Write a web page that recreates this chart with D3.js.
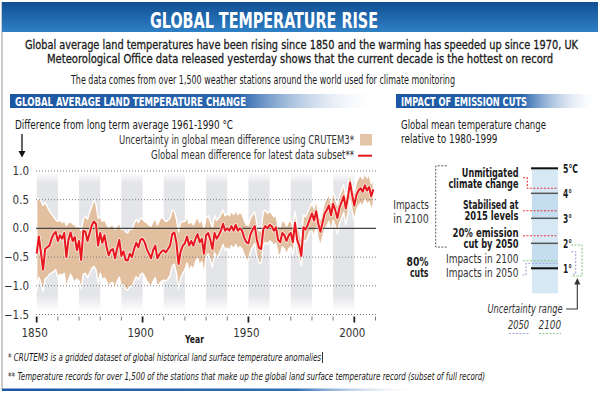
<!DOCTYPE html>
<html>
<head>
<meta charset="utf-8">
<script src="https://cdn.jsdelivr.net/npm/d3@7"></script>
<style>
body { margin: 0; background: #fff; }
svg { display: block; }
text { font-family: "DejaVu Sans Condensed", "Liberation Sans Narrow", sans-serif; fill: #1a1a1a; }
</style>
</head>
<body>
<div id="chart"></div>
<script>
// annual land temperature anomaly, 1850 onwards (deg C vs 1961-1990)
const startYear = 1850
const anomaly = [
  -0.44, -0.14, -0.42, -0.72, -0.36, -0.33, -0.30, -0.18, -0.10, -0.06,
  -0.22, -0.12, -0.18, -0.08, -0.50, -0.20, -0.07, -0.22, -0.15, -0.38,
  -0.22, -0.55, -0.04, -0.06, -0.22, -0.08, 0.05, 0.12, 0.08, -0.30,
  -0.08, -0.25, -0.12, -0.32, -0.47, -0.38, -0.36, -0.52, -0.35, -0.20,
  -0.48, -0.40, -0.55, -0.56, -0.44, -0.50, -0.36, -0.25, -0.33, -0.20,
  -0.18, -0.24, -0.36, -0.44, -0.52, -0.38, -0.30, -0.52, -0.45, -0.40,
  -0.38, -0.42, -0.36, -0.30, -0.10, -0.07, -0.25, -0.62, -0.40, -0.30,
  -0.26, -0.14, -0.30, -0.22, -0.30, -0.18, -0.10, -0.24, -0.18, -0.44,
  -0.12, -0.08, -0.20, -0.36, -0.08, -0.18, -0.12, -0.04, 0.08, -0.04,
  0.00, -0.04, 0.04, -0.04, 0.06, -0.04, 0.00, -0.04, -0.16, -0.24,
  -0.26, -0.10, -0.02, 0.04, -0.20, -0.34, -0.36, -0.02, 0.04, 0.00,
  0.06, 0.04, -0.04, 0.02, -0.20, -0.24, -0.08, -0.12, -0.22, -0.12,
  -0.08, -0.24, 0.10, -0.20, -0.30, -0.48, 0.02, -0.02, 0.06, 0.16,
  0.26, 0.14, 0.30, 0.08, -0.06, 0.10, 0.26, 0.32, 0.40, 0.23,
  0.43, 0.32, 0.18, 0.36, 0.46, 0.56, 0.35, 0.55, 0.80, 0.58,
  0.40, 0.58, 0.66, 0.70, 0.64, 0.75, 0.66, 0.72, 0.56, 0.68
]
// CRUTEM3 uncertainty envelope, same years
const upperBound = [
  0.50, 0.52, 0.48, 0.40, 0.45, 0.38, 0.30, 0.25, 0.20, 0.15,
  0.12, 0.15, 0.10, 0.14, 0.05, 0.10, 0.12, 0.08, 0.06, 0.02,
  0.04, -0.04, 0.15, 0.22, 0.16, 0.28, 0.38, 0.50, 0.42, 0.18,
  0.20, 0.12, 0.15, 0.08, 0.02, 0.05, 0.06, -0.02, 0.04, 0.10,
  -0.02, 0.00, -0.06, -0.08, 0.00, -0.02, 0.08, 0.16, 0.10, 0.18,
  0.16, 0.12, 0.10, 0.06, 0.04, 0.12, 0.18, 0.06, 0.14, 0.20,
  0.16, 0.12, 0.14, 0.18, 0.32, 0.30, 0.16, -0.06, 0.10, 0.12,
  0.12, 0.20, 0.08, 0.12, 0.06, 0.14, 0.20, 0.10, 0.16, 0.00,
  0.18, 0.22, 0.12, 0.02, 0.22, 0.14, 0.18, 0.24, 0.32, 0.22,
  0.26, 0.22, 0.30, 0.24, 0.32, 0.24, 0.28, 0.24, 0.14, 0.06,
  0.06, 0.18, 0.24, 0.28, 0.08, -0.04, -0.04, 0.28, 0.32, 0.26,
  0.30, 0.26, 0.20, 0.24, 0.04, 0.02, 0.14, 0.12, 0.04, 0.12,
  0.14, 0.02, 0.30, 0.04, -0.04, -0.20, 0.24, 0.20, 0.28, 0.36,
  0.44, 0.34, 0.50, 0.28, 0.16, 0.30, 0.46, 0.52, 0.60, 0.44,
  0.64, 0.52, 0.40, 0.56, 0.66, 0.76, 0.56, 0.76, 1.00, 0.78,
  0.62, 0.80, 0.88, 0.92, 0.86, 0.96, 0.88, 0.94, 0.78, 0.90
]
const lowerBound = [
  -1.08, -0.85, -0.95, -1.10, -0.88, -0.85, -0.80, -0.78, -0.75, -0.72,
  -0.85, -0.80, -0.82, -0.78, -1.05, -0.90, -0.80, -0.88, -0.95, -0.88,
  -0.92, -1.05, -0.80, -0.78, -0.86, -0.78, -0.70, -0.66, -0.72, -0.95,
  -0.78, -0.90, -0.86, -0.92, -1.02, -0.95, -0.94, -1.05, -0.92, -0.85,
  -1.02, -0.98, -1.06, -1.08, -1.00, -1.02, -0.92, -0.84, -0.90, -0.80,
  -0.78, -0.84, -0.92, -0.96, -1.02, -0.92, -0.86, -1.02, -0.96, -0.92,
  -0.90, -0.92, -0.88, -0.82, -0.66, -0.62, -0.78, -1.05, -0.86, -0.78,
  -0.72, -0.60, -0.74, -0.66, -0.72, -0.58, -0.52, -0.64, -0.58, -0.80,
  -0.50, -0.44, -0.55, -0.68, -0.42, -0.52, -0.46, -0.38, -0.28, -0.38,
  -0.34, -0.38, -0.30, -0.36, -0.28, -0.36, -0.32, -0.36, -0.46, -0.54,
  -0.56, -0.40, -0.32, -0.26, -0.48, -0.60, -0.62, -0.30, -0.24, -0.28,
  -0.22, -0.24, -0.30, -0.26, -0.44, -0.48, -0.32, -0.36, -0.46, -0.36,
  -0.32, -0.46, -0.14, -0.42, -0.52, -0.66, -0.20, -0.24, -0.16, -0.06,
  -0.04, -0.14, 0.02, -0.18, -0.30, -0.16, -0.02, 0.04, 0.12, -0.06,
  0.14, 0.04, -0.10, 0.08, 0.18, 0.28, 0.06, 0.26, 0.50, 0.30,
  0.14, 0.32, 0.40, 0.44, 0.38, 0.50, 0.42, 0.46, 0.32, 0.42
]
const yTicks = [1.0, 0.5, 0.0, -0.5, -1.0, -1.5]
const decadeTicks = d3.range(1850, 2011, 10)
const yearLabels = [1850, 1900, 1950, 2000]
const shadedDecades = [1850, 1870, 1890, 1910, 1930, 1950, 1970, 1990]

// right panel: scenarios, deg C relative to 1980-1999
const degreeTicks = [5, 4, 3, 2, 1]
const degreeLabels = ['5°C', '4°', '3°', '2°', '1°']
const scenarioNames = [['Unmitigated', 'climate change'], ['Stabilised at', '2015 levels'], ['20% emission', 'cut by 2050']]
const scenarioValues = [4.2, 3.3, 2.3]
const cuts80Impact2100 = 1.3
const cuts80Impact2050 = 1.2
const uncertainty2050 = [0.77, 1.66]
const uncertainty2100 = [0.69, 1.93]

var svg = d3.select('#chart').append('svg')
    .attr('width', 600)
    .attr('height', 393)

var defs = svg.append('defs')
function linearGrad(id, vertical, stops)
{
    var g = defs.append('linearGradient').attr('id', id)
        .attr('x1', 0).attr('y1', 0)
        .attr('x2', vertical ? 0 : 1).attr('y2', vertical ? 1 : 0)
    stops.forEach(function(s) {
        g.append('stop').attr('offset', s[0]).attr('stop-color', s[1]).attr('stop-opacity', s[2] == null ? 1 : s[2])
    })
}
linearGrad('headGrad', true, [[0, '#124f93'], [1, '#2f80c6']])
linearGrad('secGrad', false, [[0, '#1b57a2'], [0.62, '#2a66ae'], [1, '#ffffff', 0]])
linearGrad('footGrad', false, [[0, '#1b57a2'], [0.7, '#2f6db4'], [1, '#ffffff', 0]])
linearGrad('decadeGrad', true, [[0, '#e4e5e8', 0], [0.08, '#e4e5e8'], [0.88, '#e4e5e8'], [1, '#e4e5e8', 0]])

function addText(g, x, y, str, o)
{
    o = o || {}
    var t = g.append('text').attr('x', x).attr('y', y).text(str)
        .style('font-size', (o.size || 12) + 'px')
    if (o.bold) t.style('font-weight', 'bold')
    if (o.italic) t.style('font-style', 'italic')
    if (o.anchor) t.attr('text-anchor', o.anchor)
    if (o.fill) t.style('fill', o.fill)
    if (o.heavy) t.style('stroke', o.fill || '#1a1a1a').style('stroke-width', o.heavy)
    if (o.len) t.attr('textLength', o.len).attr('lengthAdjust', 'spacingAndGlyphs')
    return t
}

// frame, header and intro
svg.append('line').attr('x1', 2).attr('x2', 2).attr('y1', 2).attr('y2', 390).attr('stroke', '#9a9a9a')
svg.append('rect').attr('x', 2).attr('y', 2).attr('width', 596).attr('height', 30).attr('fill', 'url(#headGrad)')
addText(svg, 264, 27.5, 'GLOBAL TEMPERATURE RISE', { size: 22, bold: true, anchor: 'middle', fill: '#fff', len: 228 })
addText(svg, 25, 49, 'Global average land temperatures have been rising since 1850 and the warming has speeded up since 1970, UK', { size: 13, len: 553, heavy: 0.3 })
addText(svg, 47, 62.5, 'Meteorological Office data released yesterday shows that the current decade is the hottest on record', { size: 13, len: 506, heavy: 0.3 })
addText(svg, 71, 84, 'The data comes from over 1,500 weather stations around the world used for climate monitoring', { size: 12.5, len: 384 })

svg.append('rect').attr('x', 10).attr('y', 94).attr('width', 370).attr('height', 14).attr('fill', 'url(#secGrad)')
addText(svg, 15, 105.5, 'GLOBAL AVERAGE LAND TEMPERATURE CHANGE', { size: 13, bold: true, fill: '#fff', len: 231 })
svg.append('rect').attr('x', 396).attr('y', 94).attr('width', 204).attr('height', 14).attr('fill', 'url(#secGrad)')
addText(svg, 401, 105.5, 'IMPACT OF EMISSION CUTS', { size: 13, bold: true, fill: '#fff', len: 126 })

svg.append('rect').attr('x', 2).attr('y', 388.5).attr('width', 420).attr('height', 2.5).attr('fill', 'url(#footGrad)')
addText(svg, 8, 360.5, '* CRUTEM3 is a gridded dataset of global historical land surface temperature anomalies', { size: 10.5, italic: true, len: 313 })
svg.append('line').attr('x1', 322.5).attr('x2', 322.5).attr('y1', 352).attr('y2', 363).attr('stroke', '#333')
addText(svg, 8, 379.5, '** Temperature records for over 1,500 of the stations that make up the global land surface temperature record (subset of full record)', { size: 10.5, italic: true, len: 477 })

drawTemperatureChart()
drawEmissionPanel()

function drawTemperatureChart()
{
    var g = svg.append('g')
    var x = d3.scaleLinear().domain([1850, 2000]).range([36.7, 354.3])
    var y = d3.scaleLinear().domain([-1.5, 1]).range([314.5, 171])
    var years = anomaly.map(function(d, i) { return startYear + i })

    addText(g, 15, 128.5, 'Difference from long term average 1961-1990 °C', { size: 12, len: 218 })
    g.append('line').attr('x1', 22).attr('x2', 22).attr('y1', 134).attr('y2', 152).attr('stroke', '#111').attr('stroke-width', 1.3)
    g.append('path').attr('d', 'M18.5,151 L25.5,151 L22,157.5 Z').attr('fill', '#111')

    addText(g, 354, 143.5, 'Uncertainty in global mean difference using CRUTEM3*', { size: 11.5, anchor: 'end', fill: '#333', len: 235 })
    g.append('rect').attr('x', 360).attr('y', 134).attr('width', 12).attr('height', 11.5).attr('fill', '#e3c4a6')
    addText(g, 354, 159, 'Global mean difference for latest data subset**', { size: 11.5, anchor: 'end', fill: '#333', len: 203 })
    g.append('line').attr('x1', 358).attr('x2', 372).attr('y1', 155.7).attr('y2', 155.7).attr('stroke', '#e8161e').attr('stroke-width', 2)

    g.selectAll('.decade').data(shadedDecades).join('rect')
        .attr('class', 'decade')
        .attr('x', function(d) { return x(d) })
        .attr('width', function(d) { return x(d + 10) - x(d) })
        .attr('y', y(0.98))
        .attr('height', y(-1.45) - y(0.98))
        .attr('fill', 'url(#decadeGrad)')

    var band = d3.area()
        .x(function(d, i) { return x(years[i]) })
        .y0(function(d, i) { return y(lowerBound[i]) })
        .y1(function(d, i) { return y(upperBound[i]) })
    g.append('path').datum(anomaly).attr('d', band)
        .attr('fill', '#e2bf9f').attr('stroke', '#fff').attr('stroke-width', 1.4).attr('stroke-linejoin', 'round')

    g.selectAll('.grid').data(yTicks.filter(function(d) { return d !== 0 })).join('line')
        .attr('class', 'grid')
        .attr('x1', 36).attr('x2', 376)
        .attr('y1', function(d) { return y(d) }).attr('y2', function(d) { return y(d) })
        .attr('stroke', '#7a7a7a').attr('stroke-width', 1).attr('stroke-dasharray', '1,2')
    g.append('line').attr('x1', 36).attr('x2', 376).attr('y1', y(0)).attr('y2', y(0))
        .attr('stroke', '#444').attr('stroke-width', 1.2)

    g.selectAll('.ylab').data(yTicks).join('text')
        .attr('class', 'ylab')
        .attr('x', 29).attr('y', function(d) { return y(d) + 4 })
        .attr('text-anchor', 'end')
        .style('font-size', '11.5px').style('fill', '#333')
        .text(function(d) { return d3.format('.1f')(d) })

    var line = d3.line()
        .x(function(d, i) { return x(years[i]) })
        .y(function(d) { return y(d) })
    g.append('path').datum(anomaly).attr('d', line)
        .attr('fill', 'none').attr('stroke', '#fff').attr('stroke-opacity', 0.7).attr('stroke-width', 3.6).attr('stroke-linejoin', 'round')
    g.append('path').datum(anomaly).attr('d', line)
        .attr('fill', 'none').attr('stroke', '#e8161e').attr('stroke-width', 2).attr('stroke-linejoin', 'round')

    g.selectAll('.tick').data(decadeTicks).join('line')
        .attr('class', 'tick')
        .attr('x1', function(d) { return x(d) }).attr('x2', function(d) { return x(d) })
        .attr('y1', 316.5)
        .attr('y2', function(d) { return d % 50 === 0 ? 322.5 : 320.5 })
        .attr('stroke', function(d) { return d % 50 === 0 ? '#222' : '#777' })
        .attr('stroke-width', function(d) { return d % 50 === 0 ? 1.8 : 1 })
    g.selectAll('.xlab').data(yearLabels).join('text')
        .attr('class', 'xlab')
        .attr('x', function(d) { return x(d) - 2 }).attr('y', 337)
        .attr('text-anchor', 'middle')
        .style('font-size', '11.5px').style('fill', '#333')
        .text(function(d) { return d })
    addText(g, 185, 343, 'Year', { size: 11, bold: true, len: 19 })
}

function drawEmissionPanel()
{
    var g = svg.append('g')
    var t = d3.scaleLinear().domain([0, 5]).range([293.3, 168.3])
    var colL = 532, colR = 558, labelEnd = 518.5

    addText(g, 401, 129, 'Global mean temperature change', { size: 12, len: 145 })
    addText(g, 401, 142.5, 'relative to 1980-1999', { size: 12, len: 96.5 })

    g.selectAll('.shade').data(d3.range(0, 5)).join('rect')
        .attr('class', 'shade')
        .attr('x', colL).attr('width', colR - colL)
        .attr('y', function(d) { return t(d + 1) })
        .attr('height', function(d) { return t(d) - t(d + 1) })
        .attr('fill', function(d) { return d % 2 === 1 ? '#c4ddef' : '#d6e8f4' })

    g.selectAll('.deg').data(degreeTicks).join('line')
        .attr('class', 'deg')
        .attr('x1', colL - 1).attr('x2', colR)
        .attr('y1', function(d) { return t(d) }).attr('y2', function(d) { return t(d) })
        .attr('stroke', function(d) { return d === 5 || d === 1 ? '#111' : '#555' })
        .attr('stroke-width', function(d) { return d === 5 || d === 1 ? 2 : 1.5 })
    var degWidth = [15, 9, 9, 9, 9]
    degreeTicks.forEach(function(d, i) {
        addText(g, 563, t(d) + 4.5, degreeLabels[i], { size: 12, bold: true, len: degWidth[i] })
    })

    // scenario labels and red markers
    var labelY = [[176.5, 188], [208.5, 220], [237, 247.5]]
    var labelW = [[56.7, 70], [55.6, 54], [66, 55]]
    scenarioNames.forEach(function(lines, i) {
        lines.forEach(function(s, j) {
            addText(g, labelEnd, labelY[i][j], s, { size: 12, bold: true, anchor: 'end', len: labelW[i][j] })
        })
    })
    var redDash = function(d) {
        return g.append('path').attr('d', d).attr('fill', 'none')
            .attr('stroke', '#e8333a').attr('stroke-width', 1.1).attr('stroke-dasharray', '2,1.5')
    }
    redDash('M523,177.7 H527.3 V' + t(scenarioValues[0]) + ' H' + colR)
    redDash('M523,' + t(scenarioValues[1]) + ' H' + colR)
    redDash('M523,' + t(scenarioValues[2]) + ' H' + colR)

    addText(g, labelEnd, 263, 'Impacts in 2100', { size: 12.5, fill: '#333', anchor: 'end', len: 72.5 })
    addText(g, labelEnd, 276.5, 'Impacts in 2050', { size: 12.5, fill: '#333', anchor: 'end', len: 72.5 })
    g.append('path').attr('d', 'M523,' + t(cuts80Impact2100) + ' H' + colR)
        .attr('fill', 'none').attr('stroke', '#86c986').attr('stroke-width', 1.1).attr('stroke-dasharray', '2,1.5')
    g.append('path').attr('d', 'M522.5,275 H526 V' + t(cuts80Impact2050) + ' H' + colR)
        .attr('fill', 'none').attr('stroke', '#a3a3dc').attr('stroke-width', 1.1).attr('stroke-dasharray', '2,1.5')

    addText(g, 393.3, 208.5, 'Impacts', { size: 12.5, fill: '#333', len: 35.5 })
    addText(g, 393.3, 222.5, 'in 2100', { size: 12.5, fill: '#333', len: 35.5 })
    addText(g, 428.5, 266, '80%', { size: 12, bold: true, anchor: 'end', len: 22 })
    addText(g, 428.5, 276.5, 'cuts', { size: 12, bold: true, anchor: 'end', len: 18.5 })
    g.append('path').attr('d', 'M446.7,' + t(5.1) + ' H435.7 V' + t(1.85) + ' H446.7')
        .attr('fill', 'none').attr('stroke', '#555').attr('stroke-width', 1).attr('stroke-dasharray', '2,1.5')

    // uncertainty brackets
    g.append('path').attr('d', 'M571,' + t(uncertainty2050[1]) + ' H575.7 V' + t(uncertainty2050[0]) + ' H571')
        .attr('fill', 'none').attr('stroke', '#a3a3dc').attr('stroke-width', 1.1).attr('stroke-dasharray', '2,1.5')
    g.append('path').attr('d', 'M571,' + t(uncertainty2100[1]) + ' H582 V' + t(uncertainty2100[0]) + ' H571')
        .attr('fill', 'none').attr('stroke', '#86c986').attr('stroke-width', 1.1).attr('stroke-dasharray', '2,1.5')

    addText(g, 562.5, 313, 'Uncertainty range', { size: 12, italic: true, anchor: 'end', fill: '#333', len: 75 })
    g.append('path').attr('d', 'M566,309 H577.3 V283').attr('fill', 'none').attr('stroke', '#333').attr('stroke-width', 1.1)
    g.append('path').attr('d', 'M574.3,284.5 L580.3,284.5 L577.3,278 Z').attr('fill', '#333')
    addText(g, 508, 328.5, '2050', { size: 12, italic: true, fill: '#333', len: 21 })
    addText(g, 538.5, 328.5, '2100', { size: 12, italic: true, fill: '#333', len: 22.5 })
    g.append('line').attr('x1', 509).attr('x2', 529).attr('y1', 333.5).attr('y2', 333.5)
        .attr('stroke', '#a3a3dc').attr('stroke-width', 1.1).attr('stroke-dasharray', '2,1.5')
    g.append('line').attr('x1', 539).attr('x2', 561).attr('y1', 333.5).attr('y2', 333.5)
        .attr('stroke', '#86c986').attr('stroke-width', 1.1).attr('stroke-dasharray', '2,1.5')
}
</script>
</body>
</html>
